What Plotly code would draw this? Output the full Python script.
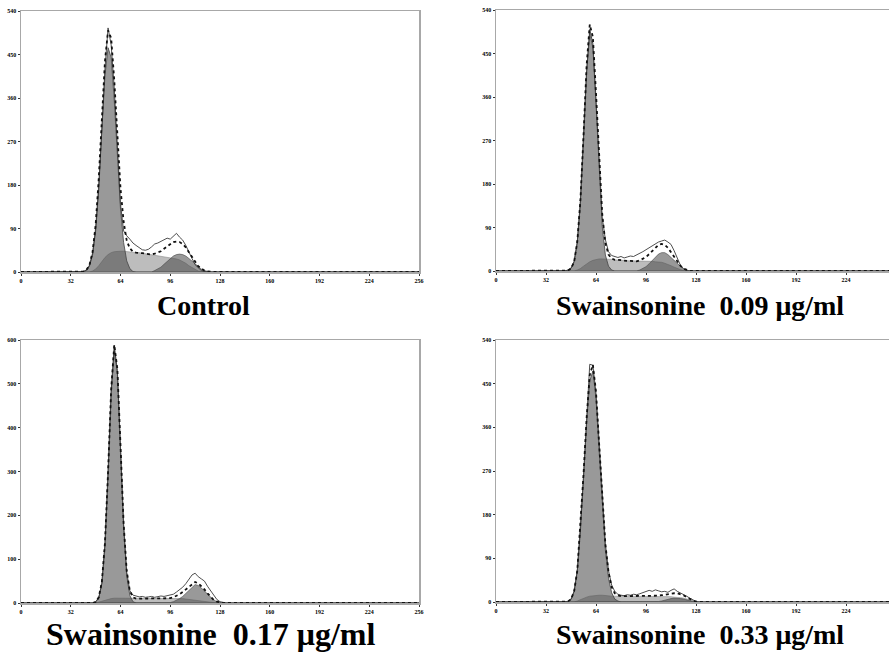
import numpy as np
import plotly.graph_objects as go

# ---------------- data ----------------
channels = [0,
            36, 38, 40, 42, 44, 46, 48, 50, 52, 54,
            56, 58, 60, 62, 64, 66, 68, 70, 72, 74,
            76, 78, 80, 82, 84, 86, 88, 90, 92, 94,
            96, 98, 100, 102, 104, 106, 108, 110, 112, 114,
            116, 118, 120, 122, 124, 126, 128, 130, 132,
            256]

x_ticks = [0, 32, 64, 96, 128, 160, 192, 224, 256]
y_ticks_a = [0, 90, 180, 270, 360, 450, 540]
y_ticks_b = [0, 100, 200, 300, 400, 500, 600]

titles = ["Control",
          "Swainsonine\u00a0 0.09 \u03bcg/ml",
          "Swainsonine\u00a0 0.17 \u03bcg/ml",
          "Swainsonine\u00a0 0.33 \u03bcg/ml"]

# Control
raw_control = [0,
    0, 0, 1, 3, 12, 35, 85, 170, 290, 420,
    505, 470, 380, 250, 140, 85, 75, 68, 60, 55,
    50, 46, 45, 47, 52, 58, 60, 63, 66, 70,
    68, 75, 80, 72, 66, 55, 40, 28, 15, 8,
    3, 1, 0, 0, 0, 0, 0, 0, 0,
    0]
g1_control = [0,
    0, 0, 1, 4, 14, 39, 91, 180, 295, 406,
    464, 444, 354, 235, 130, 61, 23, 7, 1, 0,
    0, 0, 0, 0, 0, 0, 0, 0, 0, 0,
    0, 0, 0, 0, 0, 0, 0, 0, 0, 0,
    0, 0, 0, 0, 0, 0, 0, 0, 0,
    0]
s_control = [0,
    0, 0, 0, 0, 0, 2, 6, 13, 22, 30,
    36, 40, 42, 43, 43, 43, 42, 42, 41, 40,
    40, 39, 38, 37, 36, 35, 34, 33, 32, 31,
    30, 29, 27, 25, 22, 18, 13, 9, 5, 2,
    1, 0, 0, 0, 0, 0, 0, 0, 0,
    0]
g2_control = [0,
    0, 0, 0, 0, 0, 0, 0, 0, 0, 0,
    0, 0, 0, 0, 0, 0, 0, 0, 0, 0,
    0, 0, 0, 0, 0, 3, 6, 10, 16, 22,
    28, 33, 36, 37, 36, 33, 28, 22, 16, 10,
    6, 3, 1, 0, 0, 0, 0, 0, 0,
    0]

# 0.09 ug/ml
raw_009 = [0,
    0, 0, 0, 0, 0, 2, 6, 20, 60, 145,
    275, 415, 500, 470, 355, 220, 110, 65, 40, 32,
    30, 28, 30, 27, 29, 31, 30, 33, 36, 40,
    44, 48, 52, 57, 60, 62, 64, 60, 55, 42,
    25, 12, 5, 1, 0, 0, 0, 0, 0,
    0]
g1_009 = [0,
    0, 0, 0, 0, 0, 1, 5, 19, 58, 140,
    270, 411, 491, 462, 344, 202, 92, 33, 10, 2,
    0, 0, 0, 0, 0, 0, 0, 0, 0, 0,
    0, 0, 0, 0, 0, 0, 0, 0, 0, 0,
    0, 0, 0, 0, 0, 0, 0, 0, 0,
    0]
s_009 = [0,
    0, 0, 0, 0, 0, 0, 0, 0, 2, 5,
    10, 15, 19, 22, 24, 25, 25, 25, 24, 24,
    23, 23, 22, 22, 21, 21, 21, 20, 20, 20,
    20, 20, 20, 19, 19, 18, 16, 14, 11, 8,
    5, 3, 1, 0, 0, 0, 0, 0, 0,
    0]
g2_009 = [0,
    0, 0, 0, 0, 0, 0, 0, 0, 0, 0,
    0, 0, 0, 0, 0, 0, 0, 0, 0, 0,
    0, 0, 0, 0, 0, 0, 0, 0, 2, 5,
    9, 15, 22, 29, 35, 38, 38, 34, 28, 21,
    14, 8, 4, 2, 0, 0, 0, 0, 0,
    0]

# 0.17 ug/ml
raw_017 = [0,
    0, 0, 0, 0, 0, 0, 3, 12, 45, 135,
    300, 485, 588, 530, 355, 180, 70, 28, 18, 16,
    14, 15, 13, 14, 15, 13, 14, 16, 15, 17,
    18, 20, 25, 30, 36, 44, 55, 64, 68, 60,
    55, 50, 38, 28, 18, 8, 3, 1, 0,
    0]
g1_017 = [0,
    0, 0, 0, 0, 0, 0, 2, 11, 44, 130,
    290, 477, 578, 523, 349, 171, 62, 17, 3, 0,
    0, 0, 0, 0, 0, 0, 0, 0, 0, 0,
    0, 0, 0, 0, 0, 0, 0, 0, 0, 0,
    0, 0, 0, 0, 0, 0, 0, 0, 0,
    0]
s_017 = [0,
    0, 0, 0, 0, 0, 0, 0, 2, 4, 7,
    9, 10, 11, 11, 11, 11, 11, 11, 10, 10,
    10, 10, 10, 10, 10, 10, 10, 10, 10, 10,
    10, 10, 10, 10, 10, 9, 8, 7, 6, 5,
    4, 3, 2, 1, 0, 0, 0, 0, 0,
    0]
g2_017 = [0,
    0, 0, 0, 0, 0, 0, 0, 0, 0, 0,
    0, 0, 0, 0, 0, 0, 0, 0, 0, 0,
    0, 0, 0, 0, 0, 0, 0, 0, 0, 0,
    1, 3, 6, 10, 15, 22, 30, 37, 42, 40,
    35, 28, 20, 13, 7, 3, 1, 0, 0,
    0]

# 0.33 ug/ml
raw_033 = [0,
    0, 0, 0, 0, 0, 1, 5, 22, 65, 145,
    260, 380, 490, 488, 430, 330, 215, 120, 65, 35,
    22, 16, 14, 13, 15, 14, 16, 15, 17, 19,
    21, 24, 22, 25, 23, 21, 22, 20, 24, 27,
    22, 19, 16, 12, 8, 4, 1, 0, 0,
    0]
g1_033 = [0,
    0, 0, 0, 0, 0, 1, 6, 22, 62, 148,
    255, 370, 456, 476, 419, 312, 196, 106, 49, 19,
    6, 2, 0, 0, 0, 0, 0, 0, 0, 0,
    0, 0, 0, 0, 0, 0, 0, 0, 0, 0,
    0, 0, 0, 0, 0, 0, 0, 0, 0,
    0]
s_033 = [0,
    0, 0, 0, 0, 0, 0, 0, 0, 2, 5,
    8, 10, 12, 13, 14, 14, 14, 13, 13, 12,
    12, 12, 12, 12, 12, 12, 12, 12, 12, 12,
    12, 12, 12, 12, 12, 12, 11, 11, 11, 10,
    10, 9, 8, 6, 4, 2, 1, 0, 0,
    0]
g2_033 = [0,
    0, 0, 0, 0, 0, 0, 0, 0, 0, 0,
    0, 0, 0, 0, 0, 0, 0, 0, 0, 0,
    0, 0, 0, 0, 0, 0, 0, 0, 0, 0,
    0, 0, 0, 0, 1, 2, 4, 6, 7, 8,
    8, 7, 6, 4, 2, 1, 0, 0, 0,
    0]

# ---------------- figure ----------------
W, H = 889, 652
panels = [
    dict(raw=raw_control, g1=g1_control, s=s_control, g2=g2_control, yt=y_ticks_a,
         xd=[21 / W, 419 / W], yd=[1 - 272 / H, 1 - 11 / H], xr=[0, 256], rmirror=True),
    dict(raw=raw_009, g1=g1_009, s=s_009, g2=g2_009, yt=y_ticks_a,
         xd=[496 / W, 1.0], yd=[1 - 271 / H, 1 - 10 / H], xr=[0, 251.5], rmirror=False),
    dict(raw=raw_017, g1=g1_017, s=s_017, g2=g2_017, yt=y_ticks_b,
         xd=[21 / W, 419 / W], yd=[1 - 603 / H, 1 - 340 / H], xr=[0, 256], rmirror=True),
    dict(raw=raw_033, g1=g1_033, s=s_033, g2=g2_033, yt=y_ticks_a,
         xd=[496 / W, 1.0], yd=[1 - 602 / H, 1 - 340 / H], xr=[0, 251.5], rmirror=False),
]
title_pos = [(203, 305, 28), (700, 305, 28), (210, 634, 32), (700, 634, 28)]

S_COL = "#bdbdbd"
G_COL = "rgba(70,70,70,0.55)"

fig = go.Figure()
tickfont = dict(family="Liberation Serif", size=6, color="#000")

for i, p in enumerate(panels):
    n = "" if i == 0 else str(i + 1)
    xa, ya = "x" + n, "y" + n
    total = np.array(p["g1"]) + np.array(p["s"]) + np.array(p["g2"])
    fig.add_trace(go.Scatter(x=channels, y=p["s"], xaxis=xa, yaxis=ya, mode="lines",
                             fill="tozeroy", fillcolor=S_COL,
                             line=dict(color="#8a8a8a", width=0.6), showlegend=False))
    fig.add_trace(go.Scatter(x=channels, y=p["g1"], xaxis=xa, yaxis=ya, mode="lines",
                             fill="tozeroy", fillcolor=G_COL,
                             line=dict(color="#444", width=0.8), showlegend=False))
    fig.add_trace(go.Scatter(x=channels, y=p["g2"], xaxis=xa, yaxis=ya, mode="lines",
                             fill="tozeroy", fillcolor=G_COL,
                             line=dict(color="#444", width=0.6), showlegend=False))
    fig.add_trace(go.Scatter(x=channels, y=p["raw"], xaxis=xa, yaxis=ya, mode="lines",
                             line=dict(color="#3a3a3a", width=0.9), showlegend=False))
    fig.add_trace(go.Scatter(x=channels, y=total, xaxis=xa, yaxis=ya, mode="lines",
                             line=dict(color="#111", width=1.8, dash="dot"), showlegend=False))

    ymax = p["yt"][-1]
    fig.update_layout(**{
        "xaxis" + n: dict(domain=p["xd"], range=p["xr"], anchor=ya, automargin=False,
                          tickvals=x_ticks, ticktext=["<b>%d</b>" % v for v in x_ticks],
                          tickfont=tickfont, ticks="outside", ticklen=2, tickcolor="#333",
                          showgrid=False, zeroline=False, showline=True, mirror=True,
                          linecolor="#a8a8a8", linewidth=1.5, fixedrange=True),
        "yaxis" + n: dict(domain=p["yd"], range=[0, ymax], anchor=xa, automargin=False,
                          tickvals=p["yt"], ticktext=["<b>%d</b>" % v for v in p["yt"]],
                          tickfont=tickfont, ticks="outside", ticklen=2, tickcolor="#333",
                          showgrid=False, zeroline=False, showline=True, mirror=p["rmirror"],
                          linecolor="#a8a8a8", linewidth=1.5, fixedrange=True),
    })

annotations = []
for t, (px, py, fs) in zip(titles, title_pos):
    annotations.append(dict(text="<b>" + t + "</b>", x=px / W, y=1 - py / H,
                            xref="paper", yref="paper", showarrow=False,
                            xanchor="center", yanchor="middle",
                            font=dict(family="Liberation Serif", size=fs, color="#000")))

fig.update_layout(width=W, height=H, margin=dict(l=0, r=0, t=0, b=0, autoexpand=False),
                  paper_bgcolor="white", plot_bgcolor="white",
                  annotations=annotations, showlegend=False)

fig.write_html("out.html", config={"displayModeBar": False, "staticPlot": True},
               post_script="document.body.style.margin='0';document.body.style.overflow='hidden';")
